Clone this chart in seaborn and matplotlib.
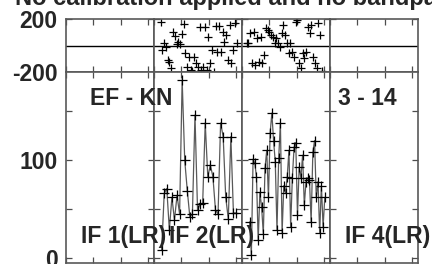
import numpy as np
import pandas as pd
import matplotlib
matplotlib.use('Agg')
import matplotlib.pyplot as plt
import seaborn as sns

# Data (amplitude and phase per IF, LR polarisation)
title = 'No calibration applied and no bandpass'
baseline_label = 'EF - KN'
time_label = '3 - 14'
if_labels = ['IF 1(LR)', 'IF 2(LR)', None, 'IF 4(LR)']

if2_amp = [8, 66, 71, 29, 62, 39, 64, 45, 182, 100, 69, 42, 45, 146, 49, 55,
           56, 138, 83, 95, 83, 49, 45, 138, 124, 62, 40, 124, 46, 46]
if2_amp_span = (2.8, 30.0)
if3_amp = [37, 3, 101, 97, 83, 18, 67, 52, 25, 92, 110, 62, 128, 148, 120, 98,
           29, 102, 138, 26, 74, 66, 83, 110, 32, 82, 113, 118, 44, 93, 82, 105,
           54, 78, 82, 80, 37, 108, 120, 62, 78, 26, 74, 32, 62]
if3_amp_span = (2.8, 30.3)

if2_phase = [180, -34, 21, -9, -110, -122, -172, 105, 72, 9, 29, 11, 87, 162,
             -59, -165, -84, -185, -190, -84, -135, -160, 142, -185, -160, 142,
             -185, 62, -135, -34, -198, 147, -47, 147, -47, 105, 29, 79, -110,
             155, -135, -34, 170, 16]
if2_phase_span = (2.4, 30.3)
if3_phase = [16, 16, 92, -135, 105, -147, 54, -122, 67, -135, -72, 130, 117, 105,
             79, 67, 16, 54, 16, -9, 92, 155, 79, 16, -59, 16, -47, -84, 180, 193,
             -135, -172, -59, -97, -47, 142, 92, 155, -84, -135, -172, 170, 79, -190]
if3_phase_span = (1.7, 29.2)

amp_data = {1: (if2_amp, if2_amp_span), 2: (if3_amp, if3_amp_span)}
phase_data = {1: (if2_phase, if2_phase_span), 2: (if3_phase, if3_phase_span)}

sns.set_style('ticks')
plt.rcParams['font.family'] = ['Liberation Sans', 'DejaVu Sans']
plt.rcParams['font.weight'] = 'bold'

W, H = 432, 264
fig = plt.figure(figsize=(W / 100, H / 100), dpi=100)

left, right = 66, 418
col_w = (right - left) / 4
top_ph, mid, bot = 19, 72, 263

for i in range(4):
    x0 = (left + i * col_w) / W
    ax_ph = fig.add_axes([x0, 1 - mid / H, col_w / W, (mid - top_ph) / H])
    ax_amp = fig.add_axes([x0, 1 - bot / H, col_w / W, (bot - mid) / H])

    if i in phase_data:
        vals, span = phase_data[i]
        df = pd.DataFrame({'ch': np.linspace(span[0], span[1], len(vals)), 'phase': vals})
        sns.scatterplot(data=df, x='ch', y='phase', ax=ax_ph, marker='+', s=40,
                        color='k', linewidth=0.9, legend=False)
    if i in amp_data:
        vals, span = amp_data[i]
        df = pd.DataFrame({'ch': np.linspace(span[0], span[1], len(vals)), 'amp': vals})
        sns.lineplot(data=df, x='ch', y='amp', ax=ax_amp, color='0.35', lw=0.9,
                     marker='+', markersize=7, markeredgecolor='k',
                     markeredgewidth=0.9, legend=False)

    ax_ph.axhline(0, color='k', lw=1)
    for ax in (ax_ph, ax_amp):
        ax.set_xlim(0, 32.2)
        ax.set_xticks([0, 10, 20, 30])
        ax.set_xticklabels([])
        ax.set_xlabel('')
        ax.set_ylabel('')
        ax.tick_params(direction='in', top=True, right=True, length=4,
                       width=0.9, color='0.3', labelsize=16.5, pad=6)
        for s in ax.spines.values():
            s.set_color('0.35')
            s.set_linewidth(1.2)
    ax_ph.set_ylim(-200, 200)
    ax_ph.set_yticks([-200, 200])
    ax_amp.set_ylim(-5, 190)
    ax_amp.set_yticks([0, 50, 100, 150])
    if i == 0:
        ax_ph.set_yticklabels(['-200', '200'], fontweight='bold')
        ax_amp.set_yticklabels(['0', '', '100', ''], fontweight='bold')
    else:
        ax_ph.set_yticklabels([])
        ax_amp.set_yticklabels([])

    if if_labels[i]:
        fig.text((left + i * col_w + 15) / W, 1 - 243 / H, if_labels[i],
                 fontsize=16.5, fontweight='bold', ha='left', va='baseline')

fig.text(90 / W, 1 - 105 / H, baseline_label, fontsize=16.5, fontweight='bold',
         ha='left', va='baseline')
fig.text(338 / W, 1 - 105 / H, time_label, fontsize=16.5, fontweight='bold',
         ha='left', va='baseline')
fig.text(15 / W, 1 - 5 / H, title, fontsize=17, fontweight='bold',
         ha='left', va='baseline')

fig.savefig('out.png', dpi=100)
